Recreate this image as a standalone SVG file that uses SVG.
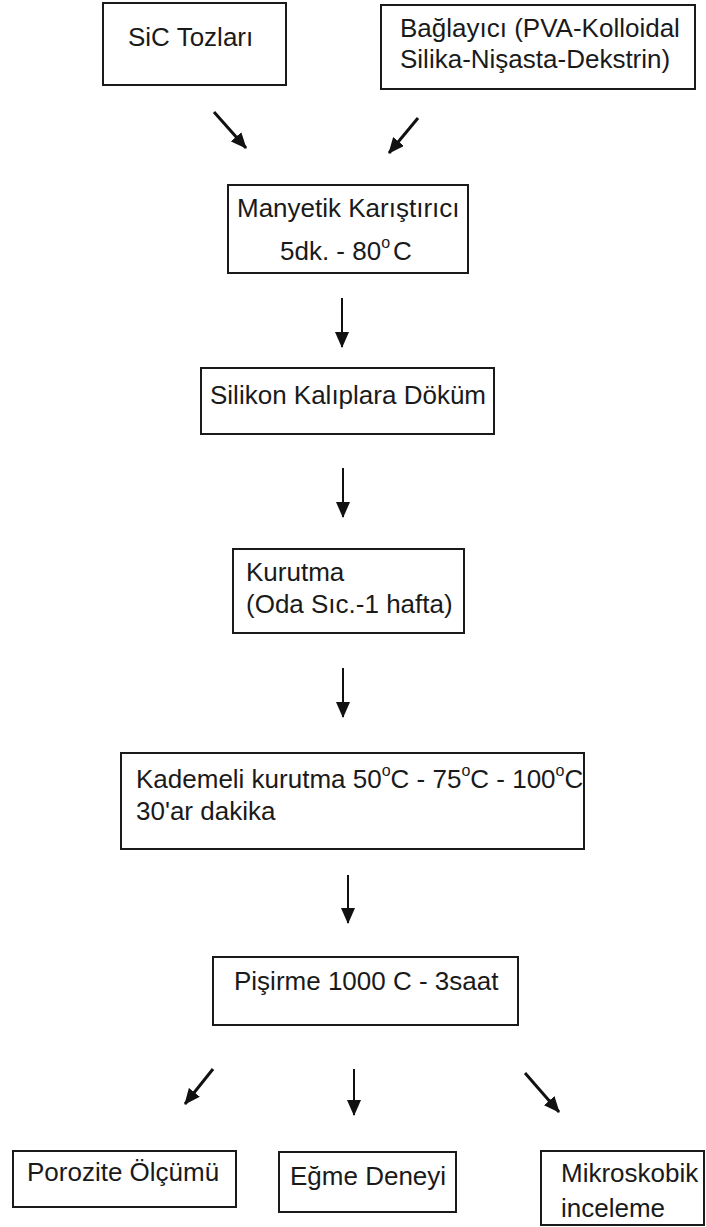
<svg xmlns="http://www.w3.org/2000/svg" width="706" height="1227" viewBox="0 0 706 1227">
<style>
.box{fill:#fff;stroke:#1a1a1a;stroke-width:2}
.t{font-family:"Liberation Sans",Arial,sans-serif;font-size:26px;fill:#1a1a1a}
.sup{font-size:16px}
.c{stroke:#111;stroke-width:2;fill:none;marker-end:url(#ah)}
.d{stroke-width:3}
</style>
<defs>
<marker id="ah" viewBox="0 0 16 14" markerWidth="16" markerHeight="14" markerUnits="userSpaceOnUse" refX="15" refY="7" orient="auto">
<path d="M0,0 L16,7 L0,14 z" fill="#111"/>
</marker>
</defs>
<rect width="706" height="1227" fill="#fff"/>
<g id="n-sic"><rect class="box" x="103" y="3" width="183" height="82"/><text class="t" x="128" y="46">SiC Tozları</text></g>
<g id="n-baglayici"><rect class="box" x="381" y="5" width="314" height="84"/><text class="t" x="400" y="37">Bağlayıcı (PVA-Kolloidal</text><text class="t" x="400" y="68">Silika-Nişasta-Dekstrin)</text></g>
<g id="n-manyetik"><rect class="box" x="228" y="185" width="240" height="88"/><text class="t" x="237" y="217">Manyetik Karıştırıcı</text><text class="t" x="280" y="260">5dk. - 80<tspan class="sup" dy="-12">o</tspan><tspan dx="3" dy="12">C</tspan></text></g>
<g id="n-silikon"><rect class="box" x="201" y="368" width="293" height="66"/><text class="t" x="210" y="404">Silikon Kalıplara Döküm</text></g>
<g id="n-kurutma"><rect class="box" x="233" y="549" width="231" height="84"/><text class="t" x="246" y="581">Kurutma</text><text class="t" x="246" y="613">(Oda Sıc.-1 hafta)</text></g>
<g id="n-kademeli"><rect class="box" x="121" y="753" width="463" height="96"/><text class="t" x="136" y="788">Kademeli kurutma 50<tspan class="sup" dy="-12">o</tspan><tspan dy="12">C - 75</tspan><tspan class="sup" dy="-12">o</tspan><tspan dy="12">C - 100</tspan><tspan class="sup" dy="-12">o</tspan><tspan dy="12">C</tspan></text><text class="t" x="136" y="820">30'ar dakika</text></g>
<g id="n-pisirme"><rect class="box" x="213" y="957" width="305" height="68"/><text class="t" x="234" y="990">Pişirme 1000 C - 3saat</text></g>
<g id="n-porozite"><rect class="box" x="13" y="1151" width="223" height="56"/><text class="t" x="27" y="1181">Porozite Ölçümü</text></g>
<g id="n-egme"><rect class="box" x="279" y="1152" width="177" height="60"/><text class="t" x="290" y="1185">Eğme Deneyi</text></g>
<g id="n-mikro"><rect class="box" x="541" y="1151" width="163" height="74"/><text class="t" x="561" y="1182">Mikroskobik</text><text class="t" x="561" y="1217">inceleme</text></g>
<g id="connectors">
<line class="c d" x1="214" y1="112" x2="246" y2="148"/>
<line class="c d" x1="418" y1="118" x2="389" y2="153"/>
<line class="c" x1="342" y1="298" x2="342" y2="347"/>
<line class="c" x1="343" y1="468" x2="343" y2="517"/>
<line class="c" x1="343" y1="668" x2="343" y2="717"/>
<line class="c" x1="348" y1="875" x2="348" y2="923"/>
<line class="c d" x1="213" y1="1069" x2="185" y2="1104"/>
<line class="c" x1="354" y1="1069" x2="354" y2="1115"/>
<line class="c d" x1="525" y1="1073" x2="559" y2="1112"/>
</g>
</svg>
